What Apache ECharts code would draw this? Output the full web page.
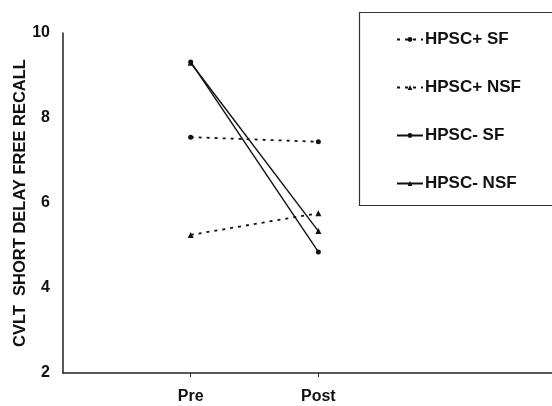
<!DOCTYPE html>
<html><head><meta charset="utf-8">
<script src="https://cdn.jsdelivr.net/npm/echarts@6/dist/echarts.min.js"></script>
<style>html,body{margin:0;padding:0;background:#fff}#c{width:552px;height:406px}</style>
</head><body><div id="c"></div>
<script>
var categories = ['Pre', 'Post'];
var catPos = [1, 2];
var yTicks = [2, 4, 6, 8, 10];
var hpscPlusSF = [7.55, 7.44];
var hpscPlusNSF = [5.25, 5.76];
var hpscMinusSF = [9.32, 4.85];
var hpscMinusNSF = [9.3, 5.34];
var seriesNames = ['HPSC+ SF', 'HPSC+ NSF', 'HPSC- SF', 'HPSC- NSF'];

function pts(vals){ return vals.map(function(v,i){ return [catPos[i], v]; }); }
var font = 'Liberation Sans, Arial, sans-serif';
var chart = echarts.init(document.getElementById('c'));
function mk(name, vals, symbol, size, dashed){
  return {
    name: name, type: 'line', data: pts(vals), symbol: symbol, symbolSize: size,
    lineStyle: {color: '#111', width: dashed ? 1.8 : 1.4, type: dashed ? [3, 5] : 'solid'},
    itemStyle: {color: '#111'}, animation: false, z: 3
  };
}
chart.setOption({
  animation: false,
  grid: {left: 63, right: 0, top: 33, bottom: 33, outerBoundsMode: 'none', containLabel: false},
  xAxis: {
    type: 'value', min: 0, max: 3.83,
    axisLine: {show: true, lineStyle: {color: '#222', width: 1.5}},
    splitLine: {show: false},
    axisTick: {show: true, customValues: catPos, length: 4, lineStyle: {color: '#222'}},
    axisLabel: {customValues: catPos, margin: 16, color: '#111', fontFamily: font, fontWeight: 'bold', fontSize: 16,
      formatter: function(v){ var i = catPos.indexOf(v); return i >= 0 ? categories[i] : ''; }}
  },
  yAxis: {
    type: 'value', min: 2, max: 10, interval: 2,
    axisLine: {show: true, lineStyle: {color: '#222', width: 1.5}},
    splitLine: {show: false},
    axisTick: {show: false},
    axisLabel: {margin: 13, color: '#111', fontFamily: font, fontWeight: 'bold', fontSize: 16,
      formatter: function(v){ return yTicks.indexOf(v) >= 0 ? String(v) : ''; }},
    name: 'CVLT  SHORT DELAY FREE RECALL', nameLocation: 'middle', nameGap: 34, nameMoveOverlap: false,
    nameTextStyle: {color: '#111', fontFamily: font, fontWeight: 'bold', fontSize: 16.5}
  },
  legend: {
    orient: 'vertical', left: 391, top: 26, itemGap: 31, itemWidth: 26, itemHeight: 6,
    data: seriesNames,
    textStyle: {color: '#111', fontFamily: font, fontWeight: 'bold', fontSize: 17, lineHeight: 17, padding: [0,0,0,-3]}
  },
  graphic: [{type: 'rect', left: 357, top: 10, shape: {width: 194, height: 193},
    style: {fill: 'none', stroke: '#333', lineWidth: 1.2}, z: 10}],
  series: [
    mk(seriesNames[0], hpscPlusSF, 'circle', 5, true),
    mk(seriesNames[1], hpscPlusNSF, 'triangle', 6, true),
    mk(seriesNames[2], hpscMinusSF, 'circle', 5, false),
    mk(seriesNames[3], hpscMinusNSF, 'triangle', 6, false)
  ]
});
</script></body></html>
